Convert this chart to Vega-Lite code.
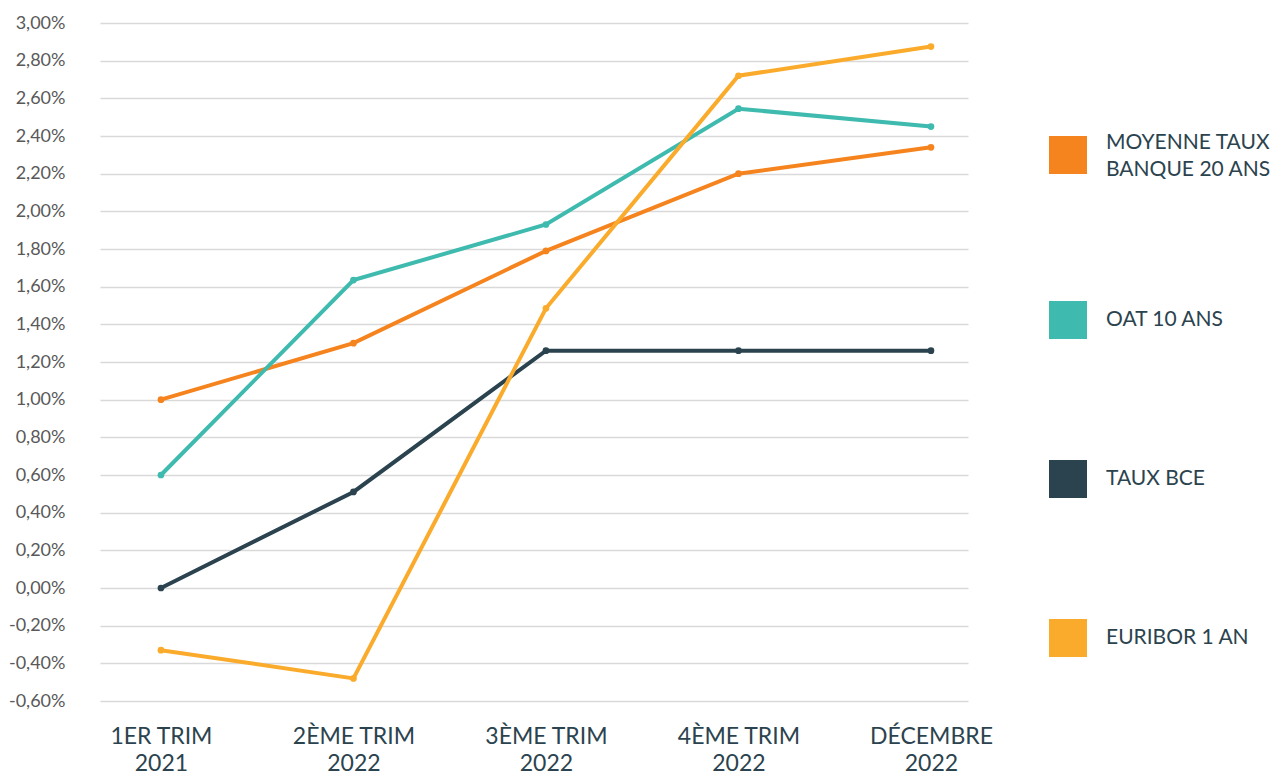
{
  "$schema": "https://vega.github.io/schema/vega-lite/v6.json",
  "width": 868,
  "height": 678,
  "autosize": "none",
  "padding": {"left": 100, "top": 23, "right": 319, "bottom": 75},
  "background": "white",
  "config": {
    "view": {"stroke": null},
    "font": "Lato"
  },
  "data": {
    "values": [
      {"period": "1ER TRIM 2021", "series": "MOYENNE TAUX BANQUE 20 ANS", "value": 1.00},
      {"period": "2ÈME TRIM 2022", "series": "MOYENNE TAUX BANQUE 20 ANS", "value": 1.30},
      {"period": "3ÈME TRIM 2022", "series": "MOYENNE TAUX BANQUE 20 ANS", "value": 1.79},
      {"period": "4ÈME TRIM 2022", "series": "MOYENNE TAUX BANQUE 20 ANS", "value": 2.20},
      {"period": "DÉCEMBRE 2022", "series": "MOYENNE TAUX BANQUE 20 ANS", "value": 2.34},
      {"period": "1ER TRIM 2021", "series": "OAT 10 ANS", "value": 0.60},
      {"period": "2ÈME TRIM 2022", "series": "OAT 10 ANS", "value": 1.635},
      {"period": "3ÈME TRIM 2022", "series": "OAT 10 ANS", "value": 1.93},
      {"period": "4ÈME TRIM 2022", "series": "OAT 10 ANS", "value": 2.545},
      {"period": "DÉCEMBRE 2022", "series": "OAT 10 ANS", "value": 2.45},
      {"period": "1ER TRIM 2021", "series": "TAUX BCE", "value": 0.00},
      {"period": "2ÈME TRIM 2022", "series": "TAUX BCE", "value": 0.51},
      {"period": "3ÈME TRIM 2022", "series": "TAUX BCE", "value": 1.26},
      {"period": "4ÈME TRIM 2022", "series": "TAUX BCE", "value": 1.26},
      {"period": "DÉCEMBRE 2022", "series": "TAUX BCE", "value": 1.26},
      {"period": "1ER TRIM 2021", "series": "EURIBOR 1 AN", "value": -0.33},
      {"period": "2ÈME TRIM 2022", "series": "EURIBOR 1 AN", "value": -0.48},
      {"period": "3ÈME TRIM 2022", "series": "EURIBOR 1 AN", "value": 1.485},
      {"period": "4ÈME TRIM 2022", "series": "EURIBOR 1 AN", "value": 2.72},
      {"period": "DÉCEMBRE 2022", "series": "EURIBOR 1 AN", "value": 2.875}
    ]
  },
  "mark": {"type": "line", "strokeWidth": 4, "point": {"filled": true, "size": 45, "opacity": 1}},
  "encoding": {
    "x": {
      "field": "period",
      "type": "ordinal",
      "sort": null,
      "scale": {"type": "point", "padding": 0.2545, "align": 0.622},
      "axis": {
        "title": null,
        "domain": false,
        "ticks": false,
        "grid": false,
        "labelAngle": 0,
        "labelFontSize": 23,
        "labelColor": "#2B434E",
        "labelLineHeight": 27,
        "labelPadding": 24,
        "labelExpr": "[slice(datum.label, 0, -5), slice(datum.label, -4)]"
      }
    },
    "y": {
      "field": "value",
      "type": "quantitative",
      "scale": {"domain": [-0.6, 3.0], "nice": false, "zero": false},
      "axis": {
        "title": null,
        "domain": false,
        "ticks": false,
        "values": [-0.6, -0.4, -0.2, 0, 0.2, 0.4, 0.6, 0.8, 1.0, 1.2, 1.4, 1.6, 1.8, 2.0, 2.2, 2.4, 2.6, 2.8, 3.0],
        "gridColor": "#d9d9d9",
        "gridWidth": 1.5,
        "labelFontSize": 18,
        "labelColor": "#595959",
        "labelPadding": 35,
        "labelExpr": "(datum.value < -0.0001 ? '-' : '') + replace(format(abs(datum.value), '.2f'), '.', ',') + '%'"
      }
    },
    "color": {
      "field": "series",
      "type": "nominal",
      "scale": {
        "domain": ["MOYENNE TAUX BANQUE 20 ANS", "OAT 10 ANS", "TAUX BCE", "EURIBOR 1 AN"],
        "range": ["#F5841F", "#3EBAAE", "#2B434E", "#FBAB2C"]
      },
      "legend": {
        "title": null,
        "orient": "none",
        "legendX": 949,
        "legendY": 113,
        "padding": 0,
        "symbolType": "square",
        "symbolSize": 1444,
        "symbolStrokeWidth": 0,
        "symbolOpacity": 1,
        "labelFontSize": 21,
        "labelColor": "#2B434E",
        "labelOffset": 19,
        "labelLimit": 300,
        "rowPadding": 121,
        "labelExpr": "datum.label == 'MOYENNE TAUX BANQUE 20 ANS' ? ['MOYENNE TAUX', 'BANQUE 20 ANS'] : datum.label",
        "encode": {
          "labels": {
            "update": {
              "lineHeight": {"value": 27},
              "dy": {"signal": "datum.value == 'MOYENNE TAUX BANQUE 20 ANS' ? -12 : 0"}
            }
          }
        }
      }
    }
  }
}
